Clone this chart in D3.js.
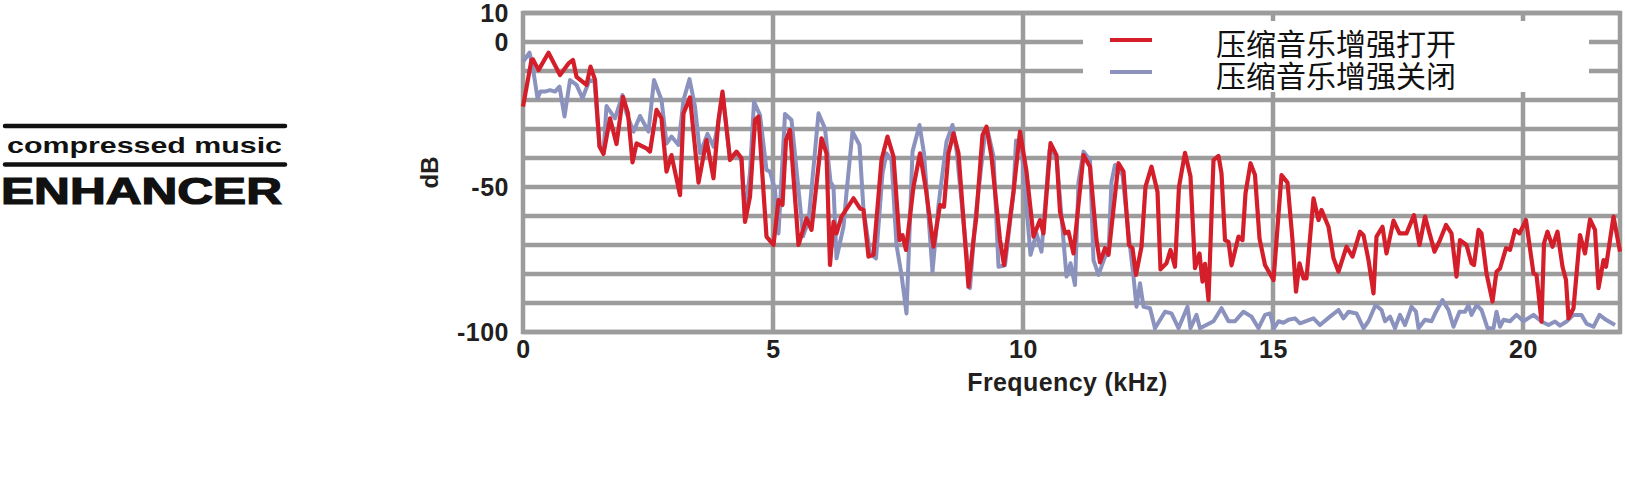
<!DOCTYPE html>
<html>
<head>
<meta charset="utf-8">
<script src="https://cdn.jsdelivr.net/npm/d3@7"></script>
<style>
  html, body { margin: 0; padding: 0; background: #fff; }
  svg { display: block; }
</style>
</head>
<body>
<script>
// ---------- data ----------
const onFreq = [0,0.17,0.2,0.31,0.51,0.74,0.91,1.0,1.07,1.27,1.35,1.44,1.53,1.61,1.74,1.87,2.0,2.1,2.19,2.27,2.47,2.54,2.67,2.77,2.87,2.97,3.14,3.21,3.34,3.51,3.67,3.81,3.91,3.99,4.14,4.27,4.37,4.44,4.54,4.64,4.71,4.87,5.01,5.11,5.19,5.26,5.34,5.51,5.67,5.77,5.97,6.07,6.14,6.21,6.27,6.37,6.61,6.74,6.81,6.91,7.01,7.17,7.29,7.41,7.53,7.59,7.66,7.81,7.94,8.06,8.21,8.34,8.42,8.51,8.61,8.71,8.91,9.01,9.06,9.19,9.27,9.37,9.54,9.62,9.81,9.94,10.07,10.21,10.34,10.41,10.55,10.67,10.74,10.84,10.91,11.01,11.21,11.34,11.47,11.54,11.64,11.71,11.91,12.01,12.12,12.19,12.26,12.37,12.45,12.57,12.69,12.75,12.87,12.95,13.04,13.12,13.24,13.35,13.44,13.53,13.59,13.64,13.71,13.81,13.91,13.97,14.04,14.11,14.17,14.31,14.39,14.45,14.55,14.64,14.73,14.84,15.01,15.17,15.29,15.39,15.46,15.53,15.61,15.67,15.81,15.91,15.97,16.11,16.21,16.31,16.47,16.59,16.74,16.81,16.91,17.01,17.07,17.19,17.27,17.41,17.53,17.67,17.82,17.93,18.04,18.23,18.34,18.46,18.57,18.67,18.74,18.87,18.97,19.02,19.11,19.17,19.27,19.39,19.47,19.54,19.66,19.74,19.84,19.93,20.06,20.21,20.27,20.37,20.42,20.49,20.59,20.69,20.79,20.86,20.91,21.01,21.14,21.24,21.34,21.44,21.51,21.61,21.66,21.81,21.94];
const onDb = [-22.3,-6.2,-6,-9.7,-3.7,-11.4,-7.4,-6.2,-12,-14.8,-8.5,-13,-36,-38.6,-26.3,-35.2,-18.9,-24.6,-41.5,-35,-36.7,-37.8,-23.4,-26.3,-44.7,-39,-52.8,-24.6,-19.1,-48.5,-33.8,-47,-26.9,-17.1,-40.7,-37.8,-40.1,-62,-53.3,-26.9,-25.7,-67.1,-70,-54.5,-56.2,-33.8,-30.3,-70,-60.8,-64.8,-33.2,-38.4,-76.9,-62,-66,-60.2,-53.9,-57.4,-57.9,-74,-73.4,-40.7,-32.6,-39.5,-68.3,-66.6,-71.7,-49.9,-38.4,-51,-70.6,-56.2,-56.8,-38.4,-31.5,-38.4,-84.4,-68.3,-61.4,-32.1,-29.2,-39.5,-68.3,-76.9,-51.6,-30.9,-44.7,-67.1,-61.4,-66,-34.9,-39,-58.5,-66,-65.4,-72.9,-39,-43,-68.3,-76,-71.1,-73.4,-41.8,-44.7,-70,-71.1,-80.3,-70.6,-49.9,-43,-51.6,-78.4,-76.3,-71.7,-77.5,-49.9,-38.2,-46.4,-78,-72.9,-82.6,-76.5,-89,-40.7,-39.3,-45.3,-68.3,-68.9,-77,-67.1,-68.3,-52.2,-41.8,-45.9,-67.7,-76.9,-82.1,-45.9,-48.5,-68.3,-86.1,-76.3,-81.5,-81.5,-53.9,-61.4,-57.9,-63.7,-74.6,-79.2,-70.6,-74,-65.4,-66.6,-75.2,-86.7,-67.1,-63.7,-72.9,-61.6,-66,-66,-59.7,-70,-60.2,-72.3,-68.3,-63.1,-66,-80.9,-68.3,-70,-76.3,-76.9,-64.8,-66,-79.8,-89.5,-79.2,-78.1,-71.1,-71.7,-64.8,-66,-61.4,-79.8,-80.3,-96.4,-69.4,-65.4,-70.6,-65.4,-77.5,-82.1,-95.3,-91.8,-66.6,-72.9,-61.2,-64.8,-84.9,-75.2,-77.5,-60.2,-72.3];

const offFreq = [0,0.13,0.19,0.29,0.35,0.44,0.54,0.64,0.73,0.83,0.94,1.07,1.19,1.33,1.43,1.53,1.61,1.67,1.84,1.99,2.07,2.21,2.34,2.51,2.62,2.77,2.87,2.97,3.11,3.21,3.33,3.44,3.54,3.69,3.81,3.91,3.99,4.14,4.27,4.37,4.44,4.54,4.62,4.74,4.87,4.94,5.04,5.11,5.24,5.37,5.54,5.6,5.64,5.71,5.91,6.04,6.15,6.21,6.27,6.41,6.47,6.59,6.73,6.81,6.94,7.06,7.19,7.27,7.37,7.47,7.57,7.67,7.79,7.93,8.02,8.19,8.31,8.47,8.59,8.67,8.94,9.04,9.24,9.29,9.41,9.51,9.64,9.81,9.86,9.97,10.15,10.27,10.37,10.53,10.67,10.87,10.95,11.04,11.11,11.21,11.34,11.41,11.51,11.64,11.71,11.77,11.84,11.99,12.11,12.21,12.27,12.34,12.41,12.54,12.64,12.84,12.97,13.11,13.29,13.35,13.47,13.54,13.81,13.97,14.11,14.24,14.41,14.57,14.71,14.84,14.94,15.02,15.11,15.21,15.31,15.44,15.54,15.81,15.94,16.14,16.31,16.41,16.51,16.67,16.81,16.91,17.05,17.17,17.24,17.34,17.44,17.54,17.64,17.77,17.86,17.91,18.04,18.17,18.26,18.39,18.51,18.61,18.73,18.84,18.91,18.97,19.07,19.17,19.29,19.41,19.47,19.54,19.61,19.74,19.87,20.01,20.21,20.37,20.51,20.64,20.74,20.87,21.01,21.17,21.27,21.41,21.53,21.66,21.84];
const offDb = [-6.8,-3.7,-8,-19.4,-17.1,-17.1,-16.6,-17.1,-15.4,-25.7,-13.1,-14.8,-19.4,-13.1,-13.7,-36,-38,-22.1,-26.3,-18.3,-24.6,-30.9,-25.5,-30.9,-13.1,-20,-35,-32.6,-35.5,-20,-12.8,-22.3,-38.4,-31.7,-36.1,-27.5,-18,-40,-38,-41,-60,-45,-20.6,-25.2,-44.1,-44.7,-51,-66,-24.8,-26.9,-56,-67,-65,-62,-24.6,-29.8,-48.2,-50,-74.6,-63.7,-52,-30.9,-35.5,-57.9,-72.9,-74.6,-45.3,-38.4,-40.7,-70,-80.3,-93.6,-37.8,-28.6,-38.4,-79.2,-56.2,-34.4,-28.6,-37.2,-84.9,-62,-31.5,-30.3,-39.5,-77.5,-77,-52,-34,-36.1,-73.4,-66,-72.3,-37.2,-39.5,-80.9,-76.3,-83.8,-48.2,-37.8,-40.7,-75.2,-80.3,-74,-73,-48.2,-42.4,-45.9,-66,-80.9,-91.3,-83.2,-91.3,-91.8,-98.7,-93,-93.6,-98.7,-91.3,-98.7,-94.1,-98.7,-96.3,-91.8,-96.3,-96.3,-93,-94.7,-98.7,-94.1,-93.6,-98.7,-96.3,-96.8,-95.8,-95.3,-97,-95.3,-97.6,-94.7,-92.4,-95.3,-93,-93.6,-98.7,-96.3,-90.7,-92.4,-96.3,-94.7,-98.7,-94.1,-97.6,-91.3,-93,-98.7,-95.8,-96.3,-93,-89,-92.4,-98.2,-93,-93,-90.7,-94.1,-90.7,-92.4,-98.7,-98.7,-93,-98.2,-95.8,-96.3,-94.1,-96.3,-94.1,-96.4,-97.6,-96.4,-97.8,-96.4,-94.1,-94.1,-97.1,-98.2,-94.1,-95.8,-97.6];

const xTicks = [0, 5, 10, 15, 20];
const xTickLabels = ["0", "5", "10", "15", "20"];
const yGrid = [10, 0, -10, -20, -30, -40, -50, -60, -70, -80, -90, -100];
const yTickValues = [10, 0, -50, -100];
const yTickLabels = ["10", "0", "-50", "-100"];
const seriesNames = ["压缩音乐增强打开", "压缩音乐增强关闭"];
const xTitle = "Frequency (kHz)";
const yTitle = "dB";
const logoTop = "compressed music";
const logoBottom = "ENHANCER";

// ---------- layout ----------
const W = 1625, H = 480;
const X0 = 523, X1 = 1620, Y0 = 13, Y1 = 332;
const RED = "#d41f2b", BLUE = "#8a92bd", GRID = "#9c9c9c", INK = "#231f20";

const svg = d3.select("body").append("svg").attr("width", W).attr("height", H)
  .style("background", "#fff");

const x = d3.scaleLinear().domain([0, 21.94]).range([X0, X1]);
const y = d3.scaleLinear().domain([-100, 10]).range([Y1, Y0]);

// grid
const g = svg.append("g");
g.selectAll("line.h").data(yGrid).join("line")
  .attr("x1", X0).attr("x2", X1).attr("y1", d => y(d)).attr("y2", d => y(d))
  .attr("stroke", GRID).attr("stroke-width", 4.5);
g.selectAll("line.v").data(xTicks.filter(d => d > 0)).join("line")
  .attr("x1", d => x(d)).attr("x2", d => x(d)).attr("y1", Y0).attr("y2", Y1)
  .attr("stroke", GRID).attr("stroke-width", 4.5);
g.append("rect").attr("x", X0).attr("y", Y0).attr("width", X1 - X0).attr("height", Y1 - Y0)
  .attr("fill", "none").attr("stroke", GRID).attr("stroke-width", 4.5);

// legend background (covers grid)
svg.append("rect").attr("x", 1083).attr("y", 21).attr("width", 506).attr("height", 71).attr("fill", "#fff");

// axes labels via d3 axes
const fontB = "'Liberation Sans', Arial, Helvetica, sans-serif";
const xAxis = d3.axisBottom(x).tickValues(xTicks).tickFormat((d, i) => xTickLabels[i]).tickSize(0).tickPadding(0);
const xa = svg.append("g").attr("transform", `translate(0,${Y1 + 17})`).call(xAxis);
xa.select(".domain").remove();
xa.selectAll("text").attr("dy", "0.35em").attr("font-family", fontB).attr("font-weight", "bold")
  .attr("font-size", 25).attr("fill", INK).attr("letter-spacing", 0.5);

const yAxis = d3.axisLeft(y).tickValues(yTickValues).tickFormat((d, i) => yTickLabels[i]).tickSize(0).tickPadding(0);
const ya = svg.append("g").attr("transform", `translate(${X0 - 14},0)`).call(yAxis);
ya.select(".domain").remove();
ya.selectAll("text").attr("font-family", fontB).attr("font-weight", "bold")
  .attr("font-size", 25).attr("fill", INK).attr("letter-spacing", 0.5);

svg.append("text").attr("x", (967 + 1168) / 2).attr("y", 391).attr("text-anchor", "middle")
  .attr("font-family", fontB).attr("font-weight", "bold").attr("font-size", 25)
  .attr("letter-spacing", 0.4).attr("fill", INK).text(xTitle);

svg.append("text").attr("transform", `translate(438,${(Y0 + Y1) / 2}) rotate(-90)`)
  .attr("text-anchor", "middle").attr("font-family", fontB).attr("font-weight", "bold")
  .attr("font-size", 24).attr("fill", INK).text(yTitle);

// lines
const line = d3.line().x(d => x(d[0])).y(d => y(d[1])).curve(d3.curveLinear);
const offData = offFreq.map((f, i) => [f, offDb[i]]);
const onData = onFreq.map((f, i) => [f, onDb[i]]);
svg.append("path").datum(offData).attr("d", line).attr("fill", "none")
  .attr("stroke", BLUE).attr("stroke-width", 4).attr("stroke-linejoin", "round");
svg.append("path").datum(onData).attr("d", line).attr("fill", "none")
  .attr("stroke", RED).attr("stroke-width", 4.2).attr("stroke-linejoin", "round");

// legend
const leg = svg.append("g");
[RED, BLUE].forEach((c, i) => {
  const ly = 40 + i * 32;
  leg.append("line").attr("x1", 1110).attr("x2", 1152).attr("y1", ly).attr("y2", ly)
    .attr("stroke", c).attr("stroke-width", 4);
  leg.append("text").attr("x", 1216).attr("y", ly + 2).attr("dominant-baseline", "central")
    .attr("font-family", "'Noto Sans CJK SC', sans-serif").attr("font-size", 30)
    .attr("fill", "#111").text(seriesNames[i]);
});

// logo
const logo = svg.append("g");
[126, 164.5].forEach(yy => {
  logo.append("line").attr("x1", 5).attr("x2", 285).attr("y1", yy).attr("y2", yy)
    .attr("stroke", "#111").attr("stroke-width", 4.5).attr("stroke-linecap", "round");
});
logo.append("text").attr("x", 7).attr("y", 153).attr("font-family", fontB).attr("font-weight", "bold")
  .attr("font-size", 22).attr("fill", "#111").attr("textLength", 275).attr("lengthAdjust", "spacingAndGlyphs")
  .text(logoTop);
logo.append("text").attr("x", 1).attr("y", 204).attr("font-family", fontB).attr("font-weight", "bold")
  .attr("font-size", 36).attr("fill", "#111").attr("textLength", 281).attr("lengthAdjust", "spacingAndGlyphs")
  .attr("stroke", "#111").attr("stroke-width", 1.2)
  .text(logoBottom);
</script>
</body>
</html>
